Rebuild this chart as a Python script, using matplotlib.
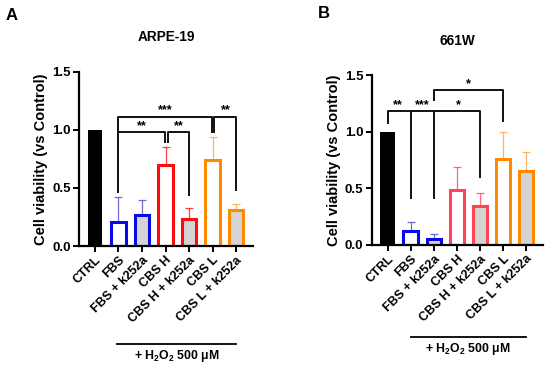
import matplotlib
matplotlib.use('Agg')
import matplotlib.pyplot as plt
import numpy as np

plt.rcParams['font.family'] = ['Liberation Sans', 'DejaVu Sans']
plt.rcParams['font.weight'] = 'bold'
plt.rcParams['mathtext.fontset'] = 'custom'
plt.rcParams['mathtext.rm'] = 'Liberation Sans:bold'
plt.rcParams['mathtext.bf'] = 'Liberation Sans:bold'

groups = ['CTRL', 'FBS', 'FBS + k252a', 'CBS H', 'CBS H + k252a', 'CBS L', 'CBS L + k252a']

# ARPE-19
mean_a = [1.0, 0.21, 0.27, 0.70, 0.235, 0.745, 0.31]
err_a = [0, 0.21, 0.13, 0.15, 0.095, 0.195, 0.05]
# 661W
mean_b = [1.0, 0.124, 0.05, 0.48, 0.345, 0.755, 0.655]
err_b = [0, 0.076, 0.047, 0.21, 0.112, 0.245, 0.165]

blue, red_a, red_b, orange = '#0a0ae6', '#ff0d0d', '#ff4455', '#ff8a00'
gray = '#d4d4d4'

def styles(red):
    face = ['black', 'white', gray, 'white', gray, 'white', gray]
    edge = ['black', blue, blue, red, red, orange, orange]
    ecol = ['black', '#4b4bc8', '#4b4bc8', red, red, '#ffa040', '#ffa040']
    return face, edge, ecol

fig = plt.figure(figsize=(5.5, 3.69), dpi=100)
axA = fig.add_axes([0.1436, 0.3333, 0.3164, 0.4717])
axB = fig.add_axes([0.676, 0.337, 0.311, 0.459])


def draw(ax, mean, err, red, title):
    x = np.arange(len(groups))
    face, edge, ecol = styles(red)
    for i in range(len(groups)):
        if err[i] > 0:
            ax.errorbar(x[i], mean[i], yerr=[[0], [err[i]]], fmt='none',
                        ecolor=ecol[i], elinewidth=0.9, capsize=3.2,
                        capthick=0.9, alpha=0.8, zorder=1)
        ax.bar(x[i], mean[i], width=0.62, color=face[i], edgecolor=edge[i],
               linewidth=2.2 if i else 0, zorder=2)
    ax.set_xlim(-0.68, 6.72)
    ax.set_ylim(0, 1.5)
    ax.set_yticks([0, 0.5, 1.0, 1.5])
    ax.set_yticklabels(['0.0', '0.5', '1.0', '1.5'], fontsize=9.5, fontweight='bold')
    ax.set_xticks(x)
    ax.set_xticklabels(groups, rotation=45, ha='right', rotation_mode='anchor',
                       fontsize=9, fontweight='bold')
    for s in ['top', 'right']:
        ax.spines[s].set_visible(False)
    for s in ['left', 'bottom']:
        ax.spines[s].set_linewidth(1.6)
    ax.tick_params(width=1.4, length=4, pad=2)
    ax.set_ylabel('Cell viability (vs Control)', fontsize=10.5, fontweight='bold', labelpad=3)
    ax.set_title(title, fontsize=9.8, fontweight='bold', pad=22)


def seg(ax, xs, ys):
    ax.plot(xs, ys, color='#111111', lw=1.4, solid_capstyle='butt',
            clip_on=False, zorder=3)


def star(ax, x, y, s):
    ax.text(x, y, s, ha='center', va='bottom', fontsize=9, fontweight='bold')


draw(axA, mean_a, err_a, red_a, 'ARPE-19')
draw(axB, mean_b, err_b, red_b, '661W')

# brackets panel A
hA1, hA2 = 1.115, 0.985
seg(axA, [1, 1, 4.96, 4.96], [0.46, hA1, hA1, 0.97])
seg(axA, [5.08, 5.08, 6, 6], [0.97, hA1, hA1, 0.475])
seg(axA, [1, 2.97, 2.97], [hA2, hA2, 0.885])
seg(axA, [3.09, 3.09, 4, 4], [0.885, hA2, hA2, 0.43])
star(axA, 3.0, hA1 + 0.0, '***')
star(axA, 5.55, hA1 + 0.0, '**')
star(axA, 2.0, hA2 + 0.0, '**')
star(axA, 3.55, hA2 + 0.0, '**')

# brackets panel B
hB1, hB2 = 1.183, 1.369
seg(axB, [0, 0, 4, 4], [1.07, hB1, hB1, 0.59])
seg(axB, [1, 1], [hB1, 0.40])
seg(axB, [2, 2], [hB1, 0.40])
seg(axB, [2, 2, 5, 5], [1.275, hB2, hB2, 1.09])
star(axB, 0.45, hB1 + 0.0, '**')
star(axB, 1.5, hB1 + 0.0, '***')
star(axB, 3.05, hB1 + 0.0, '*')
star(axB, 3.5, hB2 + 0.0, '*')

# treatment bars below the labels
fig.lines.append(plt.Line2D([117 / 550, 236 / 550], [1 - 344 / 369] * 2,
                            color='black', lw=1.3, transform=fig.transFigure))
fig.text(177 / 550, 1 - 356 / 369, r'+ H$_2$O$_2$ 500 μM', ha='center', va='center',
         fontsize=8.8, fontweight='bold')
fig.lines.append(plt.Line2D([411 / 550, 526 / 550], [1 - 336.7 / 369] * 2,
                            color='black', lw=1.3, transform=fig.transFigure))
fig.text(468 / 550, 1 - 349 / 369, r'+ H$_2$O$_2$ 500 μM', ha='center', va='center',
         fontsize=8.8, fontweight='bold')

fig.text(12 / 550, 1 - 15 / 369, 'A', ha='center', va='center', fontsize=12, fontweight='bold')
fig.text(324 / 550, 1 - 14 / 369, 'B', ha='center', va='center', fontsize=12, fontweight='bold')

fig.savefig('out.png', dpi=100)
